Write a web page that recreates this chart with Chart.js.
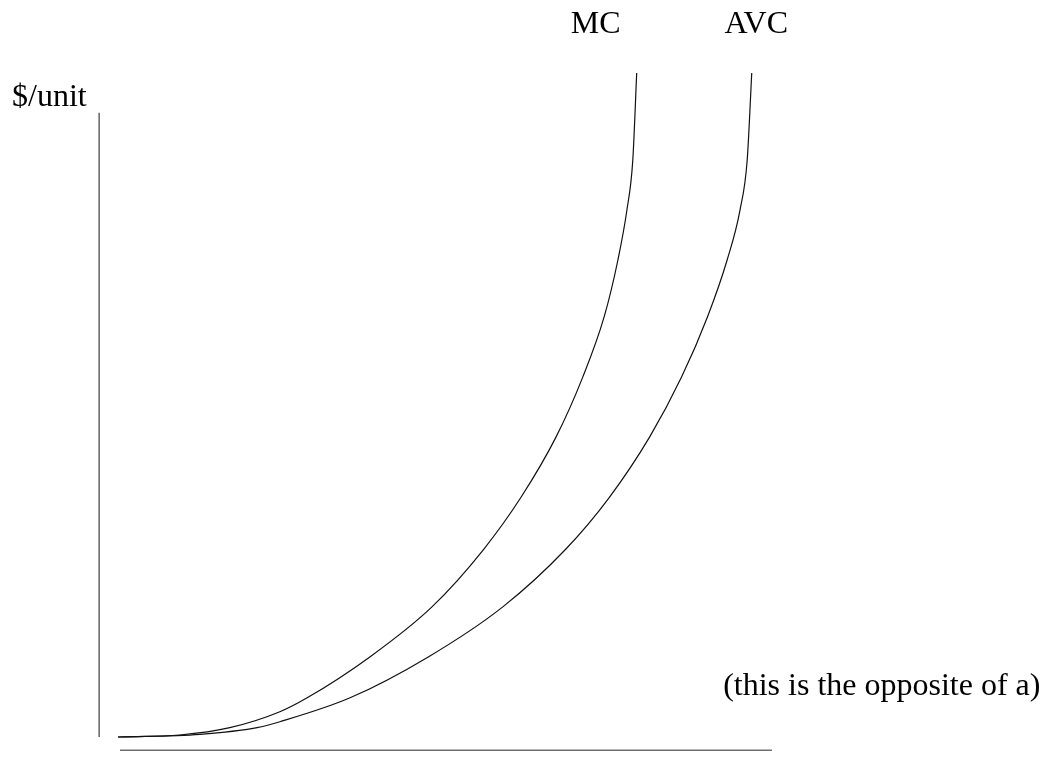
<!DOCTYPE html>
<html>
<head>
<meta charset="utf-8">
<script src="https://cdn.jsdelivr.net/npm/chart.js@4/dist/chart.umd.min.js"></script>
<style>
  html, body { margin: 0; padding: 0; background: #fff; }
  #wrap { width: 1050px; height: 759px; position: relative; }
</style>
</head>
<body>
<div id="wrap"><canvas id="c"></canvas></div>
<script>
"use strict";

// quantity / price (0..10 on both)
const mcQ  = [0, 0.95, 1.72, 2.49, 2.91, 3.88, 4.83, 5.62, 6.20, 6.74, 7.15, 7.48, 7.69, 7.83, 7.92, 7.98];
const mcP  = [0, 0.03, 0.14, 0.38, 0.59, 1.21, 1.96, 2.82, 3.61, 4.52, 5.42, 6.33, 7.18, 7.94, 8.69, 10.0];
const avcQ = [0, 1.26, 2.14, 2.49, 3.57, 4.78, 5.92, 6.88, 7.56, 8.18, 8.67, 9.07, 9.37, 9.57, 9.68, 9.75];
const avcP = [0, 0.04, 0.14, 0.23, 0.59, 1.21, 1.96, 2.82, 3.61, 4.52, 5.42, 6.33, 7.18, 7.94, 8.69, 10.0];

// the two axis strokes (they do not meet in the sketch)
const yAxisLine = [{ x: -0.29, y: 9.40 }, { x: -0.29, y: 0 }];
const xAxisLine = [{ x: 0.03, y: -0.2 }, { x: 10.06, y: -0.2 }];

// text labels: [text, q, p, align]
const labels = [
  ['MC', 7.35, 10.6, 'center'],
  ['AVC', 9.82, 10.6, 'center'],
  ['$/unit', -1.63, 9.50, 'left'],
  ['(this is the opposite of a)', 9.31, 0.63, 'left']
];

const toPts = (xs, ys) => xs.map((x, i) => ({ x: x, y: ys[i] }));

const textPlugin = {
  id: 'sketchText',
  afterDatasetsDraw(chart) {
    const { ctx, scales } = chart;
    ctx.save();
    ctx.fillStyle = '#000';
    ctx.font = '32px "Liberation Serif", "Times New Roman", serif';
    ctx.textBaseline = 'alphabetic';
    for (const [t, q, p, align] of labels) {
      ctx.textAlign = align;
      ctx.fillText(t, scales.x.getPixelForValue(q), scales.y.getPixelForValue(p));
    }
    ctx.restore();
  }
};

const curve = (data) => ({
  data: data,
  borderColor: '#111',
  borderWidth: 1.2,
  pointRadius: 0,
  showLine: true,
  cubicInterpolationMode: 'monotone',
  clip: false
});

const axisStroke = (data) => ({
  data: data,
  borderColor: '#6e6e6e',
  borderWidth: 1.6,
  pointRadius: 0,
  showLine: true,
  tension: 0,
  clip: false
});

new Chart(document.getElementById('c'), {
  type: 'scatter',
  data: {
    datasets: [
      curve(toPts(mcQ, mcP)),
      curve(toPts(avcQ, avcP)),
      axisStroke(yAxisLine),
      axisStroke(xAxisLine)
    ]
  },
  options: {
    responsive: true,
    maintainAspectRatio: false,
    animation: false,
    layout: { padding: { left: 118, right: 282, top: 73, bottom: 22 } },
    plugins: { legend: { display: false }, tooltip: { enabled: false } },
    scales: {
      x: { type: 'linear', min: 0, max: 10, display: false },
      y: { type: 'linear', min: 0, max: 10, display: false }
    }
  },
  plugins: [textPlugin]
});
</script>
</body>
</html>
